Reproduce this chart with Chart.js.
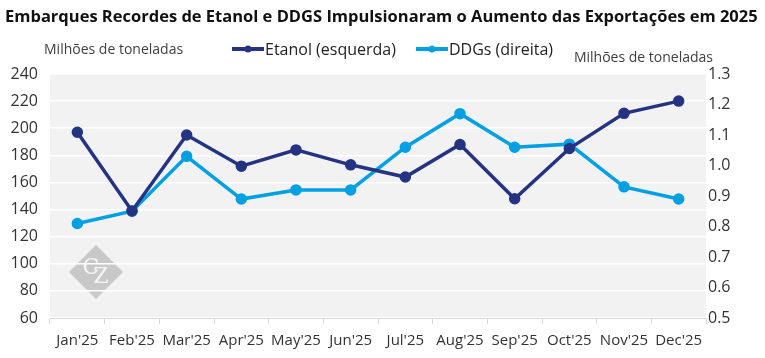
<!DOCTYPE html>
<html>
<head>
<meta charset="utf-8">
<script src="https://cdn.jsdelivr.net/npm/chart.js@4.4.1/dist/chart.umd.min.js"></script>
<style>
  html, body { margin: 0; padding: 0; background: #fff; }
  #wrap { width: 765px; height: 358px; position: relative; }
</style>
</head>
<body>
<div id="wrap"><canvas id="exports-chart"></canvas></div>
<script>
const months = ["Jan'25", "Feb'25", "Mar'25", "Apr'25", "May'25", "Jun'25", "Jul'25", "Aug'25", "Sep'25", "Oct'25", "Nov'25", "Dec'25"];
const etanol = [197, 139, 195, 172, 184, 173, 164, 188, 148, 185, 211, 220];
const ddgs = [0.81, 0.85, 1.03, 0.89, 0.92, 0.92, 1.06, 1.17, 1.06, 1.07, 0.93, 0.89];
const leftTicks = [60, 240, 20];
const rightTicks = [0.5, 1.3, 0.1];

const chartTitle = 'Embarques Recordes de Etanol e DDGS Impulsionaram o Aumento das Exportações em 2025';
const axisTitle = 'Milhões de toneladas';
const font = "'Open Sans', sans-serif";

// grey plot background + watermark + headings + legend
const decor = {
    id: 'decor',
    beforeDraw(chart) {
        const { ctx, chartArea: a } = chart;
        ctx.save();
        ctx.fillStyle = '#f2f2f2';
        ctx.fillRect(a.left, a.top, a.right - a.left, a.bottom - a.top);

        // CZ watermark
        const cx = 96, cy = 272, r = 27;
        ctx.fillStyle = '#c8c8c8';
        ctx.beginPath();
        ctx.moveTo(cx, cy - r); ctx.lineTo(cx + r, cy); ctx.lineTo(cx, cy + r); ctx.lineTo(cx - r, cy);
        ctx.closePath();
        ctx.fill();
        ctx.fillStyle = '#f4f4f4';
        ctx.font = "22px 'DejaVu Serif', serif";
        ctx.textAlign = 'center';
        ctx.textBaseline = 'middle';
        ctx.fillText('C', cx - 5, cy - 4);
        ctx.fillText('Z', cx + 5, cy + 5);
        ctx.restore();
    },
    afterDraw(chart) {
        const { ctx } = chart;
        ctx.save();
        ctx.fillStyle = '#111';
        ctx.textBaseline = 'middle';
        ctx.textAlign = 'left';
        ctx.font = "bold 16.5px " + font;
        ctx.fillText(chartTitle, 5, 17);

        ctx.fillStyle = '#404040';
        ctx.font = "14px " + font;
        ctx.fillText(axisTitle, 44, 50);
        ctx.textAlign = 'right';
        ctx.fillText(axisTitle, 713, 58);

        // legend
        let x = 232;
        ctx.textAlign = 'left';
        ctx.font = "16px " + font;
        chart.data.datasets.forEach((ds) => {
            ctx.strokeStyle = ds.borderColor;
            ctx.fillStyle = ds.borderColor;
            ctx.lineWidth = 4;
            ctx.beginPath();
            ctx.moveTo(x, 49); ctx.lineTo(x + 32, 49);
            ctx.stroke();
            ctx.beginPath();
            ctx.arc(x + 16, 49, 3.5, 0, Math.PI * 2);
            ctx.fill();
            ctx.fillStyle = '#222';
            ctx.fillText(ds.label, x + 33, 50);
            x += 33 + ctx.measureText(ds.label).width + 20;
        });
        ctx.restore();
    }
};

const el = document.getElementById('exports-chart').getContext('2d');
new Chart(el, {
    type: 'line',
    data: {
        labels: months,
        datasets: [{
            label: 'Etanol (esquerda)',
            data: etanol,
            yAxisID: 'y',
            borderColor: '#253383',
            backgroundColor: '#253383',
            borderWidth: 3.5,
            pointRadius: 4,
            pointHoverRadius: 4,
            tension: 0
        }, {
            label: 'DDGs (direita)',
            data: ddgs,
            yAxisID: 'y1',
            borderColor: '#00a0e2',
            backgroundColor: '#00a0e2',
            borderWidth: 3.5,
            pointRadius: 4,
            pointHoverRadius: 4,
            tension: 0
        }]
    },
    options: {
        responsive: true,
        maintainAspectRatio: false,
        animation: false,
        layout: { padding: { top: 74, left: 0, right: 0, bottom: 0 } },
        plugins: {
            legend: { display: false },
            title: { display: false },
            tooltip: { enabled: false }
        },
        scales: {
            x: {
                offset: true,
                grid: { offset: true, drawOnChartArea: false, drawTicks: true, tickLength: 6, color: '#d9d9d9' },
                border: { color: '#d9d9d9', width: 1 },
                ticks: { color: '#333', font: { size: 15, family: "'Open Sans'" }, padding: 8, maxRotation: 0, autoSkip: false }
            },
            y: {
                position: 'left',
                min: leftTicks[0], max: leftTicks[1],
                ticks: { stepSize: leftTicks[2], color: '#333', font: { size: 16, family: "'Open Sans'" }, padding: 12 },
                grid: { color: '#ffffff', lineWidth: 1.5, drawTicks: false },
                border: { display: false },
                afterFit(scale) { scale.width = 50; }
            },
            y1: {
                position: 'right',
                min: rightTicks[0], max: rightTicks[1],
                ticks: { stepSize: rightTicks[2], color: '#333', font: { size: 16, family: "'Open Sans'" }, padding: 2,
                         callback: (v) => v.toFixed(1) },
                grid: { display: false, drawTicks: false },
                border: { display: false },
                afterFit(scale) { scale.width = 59; }
            }
        }
    },
    plugins: [decor]
});
</script>
</body>
</html>
